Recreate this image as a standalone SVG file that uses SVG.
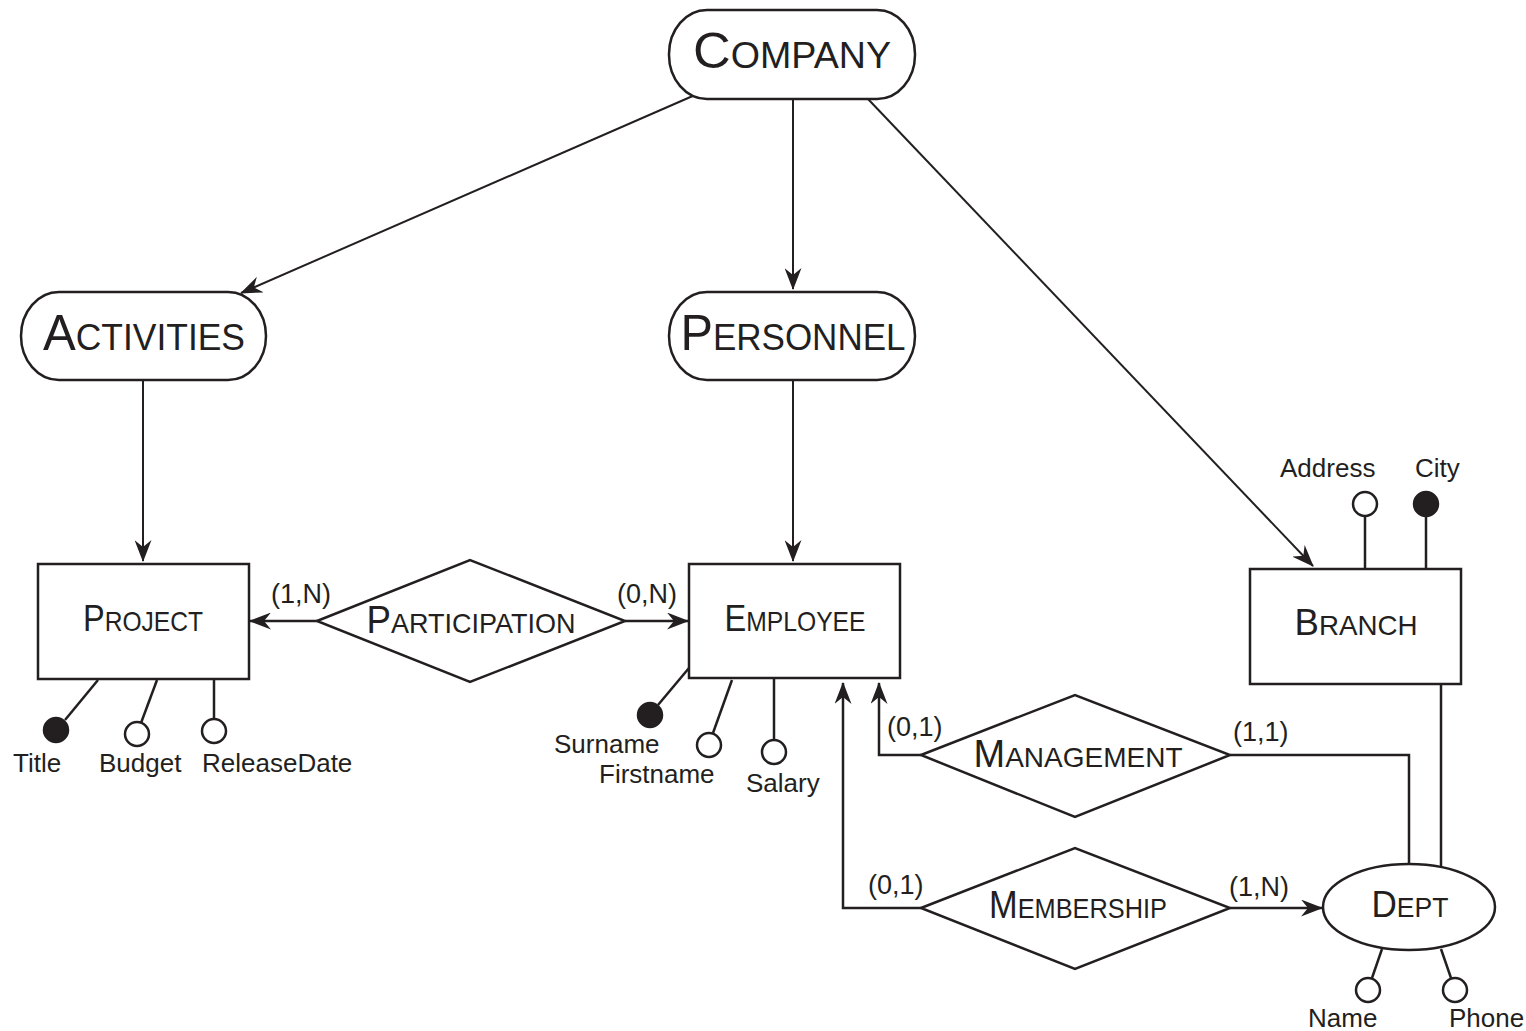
<svg xmlns="http://www.w3.org/2000/svg" width="1526" height="1031" viewBox="0 0 1526 1031">
<style>
.sh{fill:#fff;stroke:#231f20;stroke-width:2.5}
.ln{fill:none;stroke:#231f20;stroke-width:2.5}
.thin{fill:none;stroke:#231f20;stroke-width:2}
.lbl{font-family:"Liberation Sans",Arial,sans-serif;fill:#231f20;text-anchor:middle}
.att{font-family:"Liberation Sans",Arial,sans-serif;fill:#231f20;font-size:26px}
.card{font-family:"Liberation Sans",Arial,sans-serif;fill:#231f20;font-size:27px}
.fill{fill:#231f20;stroke:#231f20;stroke-width:2.5}
.open{fill:#fff;stroke:#231f20;stroke-width:2.5}
</style>
<defs>
<marker id="ah" markerUnits="userSpaceOnUse" viewBox="0 0 22 17" refX="21" refY="8.5" markerWidth="22" markerHeight="17" orient="auto">
<path d="M0,0 L22,8.5 L0,17 L7,8.5 Z" fill="#231f20"/>
</marker>
</defs>
<rect width="1526" height="1031" fill="#fff"/>

<g id="connectors">
<line class="thin" x1="695" y1="95" x2="241" y2="293" marker-end="url(#ah)"/>
<line class="thin" x1="793" y1="99" x2="793" y2="289" marker-end="url(#ah)"/>
<line class="thin" x1="868" y1="99" x2="1313" y2="566" marker-end="url(#ah)"/>
<line class="thin" x1="143" y1="380" x2="143" y2="561" marker-end="url(#ah)"/>
<line class="thin" x1="793" y1="380" x2="793" y2="561" marker-end="url(#ah)"/>
<line class="ln" x1="317" y1="621" x2="250" y2="621" marker-end="url(#ah)"/>
<line class="ln" x1="625" y1="621" x2="688" y2="621" marker-end="url(#ah)"/>
<polyline class="ln" points="921,755 879,755 879,683" marker-end="url(#ah)"/>
<polyline class="ln" points="921,908 843,908 843,683" marker-end="url(#ah)"/>
<polyline class="ln" points="1230,755 1409,755 1409,865"/>
<line class="ln" x1="1441" y1="684" x2="1441" y2="867"/>
<line class="ln" x1="1230" y1="908" x2="1322" y2="908" marker-end="url(#ah)"/>
</g>

<g id="company">
<rect class="sh" x="669" y="10" width="246" height="89" rx="38" ry="44"/>
<text class="lbl" x="792" y="68" textLength="198" lengthAdjust="spacingAndGlyphs"><tspan font-size="50">C</tspan><tspan font-size="36">OMPANY</tspan></text>
</g>

<g id="activities">
<rect class="sh" x="21" y="292" width="245" height="88" rx="38" ry="44"/>
<text class="lbl" x="144" y="350" textLength="202" lengthAdjust="spacingAndGlyphs"><tspan font-size="50">A</tspan><tspan font-size="36">CTIVITIES</tspan></text>
</g>

<g id="personnel">
<rect class="sh" x="669" y="292" width="246" height="88" rx="38" ry="44"/>
<text class="lbl" x="793" y="350" textLength="225" lengthAdjust="spacingAndGlyphs"><tspan font-size="50">P</tspan><tspan font-size="36">ERSONNEL</tspan></text>
</g>

<g id="project">
<rect class="sh" x="38" y="564" width="211" height="115"/>
<text class="lbl" x="143" y="631" textLength="120" lengthAdjust="spacingAndGlyphs"><tspan font-size="37">P</tspan><tspan font-size="28">ROJECT</tspan></text>
<line class="ln" x1="98" y1="680" x2="65" y2="720"/>
<circle class="fill" cx="56" cy="730" r="12"/>
<line class="ln" x1="157" y1="680" x2="141" y2="723"/>
<circle class="open" cx="137" cy="734" r="12"/>
<line class="ln" x1="214" y1="680" x2="214" y2="719"/>
<circle class="open" cx="214" cy="731" r="12"/>
<text class="att" x="13" y="772">Title</text>
<text class="att" x="99" y="772">Budget</text>
<text class="att" x="202" y="772">ReleaseDate</text>
</g>

<g id="participation">
<polygon class="sh" points="317,621 470,560 625,621 470,682"/>
<text class="lbl" x="471" y="633" textLength="209" lengthAdjust="spacingAndGlyphs"><tspan font-size="38">P</tspan><tspan font-size="28">ARTICIPATION</tspan></text>
<text class="card" x="271" y="603">(1,N)</text>
<text class="card" x="617" y="603">(0,N)</text>
</g>

<g id="employee">
<rect class="sh" x="689" y="564" width="211" height="114"/>
<text class="lbl" x="795" y="631" textLength="141" lengthAdjust="spacingAndGlyphs"><tspan font-size="37">E</tspan><tspan font-size="28">MPLOYEE</tspan></text>
<line class="ln" x1="689" y1="668" x2="658" y2="705"/>
<circle class="fill" cx="650" cy="715" r="12"/>
<line class="ln" x1="732" y1="680" x2="713" y2="733"/>
<circle class="open" cx="709" cy="745" r="12"/>
<line class="ln" x1="774" y1="679" x2="774" y2="740"/>
<circle class="open" cx="774" cy="752" r="12"/>
<text class="att" x="554" y="753">Surname</text>
<text class="att" x="599" y="783">Firstname</text>
<text class="att" x="746" y="792">Salary</text>
</g>

<g id="branch">
<rect class="sh" x="1250" y="569" width="211" height="115"/>
<text class="lbl" x="1356" y="635" textLength="123" lengthAdjust="spacingAndGlyphs"><tspan font-size="37">B</tspan><tspan font-size="28">RANCH</tspan></text>
<line class="ln" x1="1365" y1="516" x2="1365" y2="569"/>
<circle class="open" cx="1365" cy="504" r="12"/>
<line class="ln" x1="1426" y1="516" x2="1426" y2="569"/>
<circle class="fill" cx="1426" cy="504" r="12"/>
<text class="att" x="1280" y="477">Address</text>
<text class="att" x="1415" y="477">City</text>
</g>

<g id="management">
<polygon class="sh" points="921,755 1075,695 1230,755 1075,817"/>
<text class="lbl" x="1078" y="767" textLength="209" lengthAdjust="spacingAndGlyphs"><tspan font-size="38">M</tspan><tspan font-size="28">ANAGEMENT</tspan></text>
<text class="card" x="887" y="736">(0,1)</text>
<text class="card" x="1233" y="741">(1,1)</text>
</g>

<g id="membership">
<polygon class="sh" points="921,908 1075,848 1230,908 1075,969"/>
<text class="lbl" x="1078" y="918" textLength="178" lengthAdjust="spacingAndGlyphs"><tspan font-size="38">M</tspan><tspan font-size="28">EMBERSHIP</tspan></text>
<text class="card" x="868" y="894">(0,1)</text>
<text class="card" x="1229" y="896">(1,N)</text>
</g>

<g id="dept">
<ellipse class="sh" cx="1409" cy="907" rx="86" ry="43"/>
<text class="lbl" x="1410" y="917" textLength="77" lengthAdjust="spacingAndGlyphs"><tspan font-size="37">D</tspan><tspan font-size="28">EPT</tspan></text>
<line class="ln" x1="1382" y1="949" x2="1372" y2="978"/>
<circle class="open" cx="1368" cy="990" r="12"/>
<line class="ln" x1="1441" y1="949" x2="1451" y2="978"/>
<circle class="open" cx="1455" cy="990" r="12"/>
<text class="att" x="1308" y="1027">Name</text>
<text class="att" x="1449" y="1027">Phone</text>
</g>
</svg>
